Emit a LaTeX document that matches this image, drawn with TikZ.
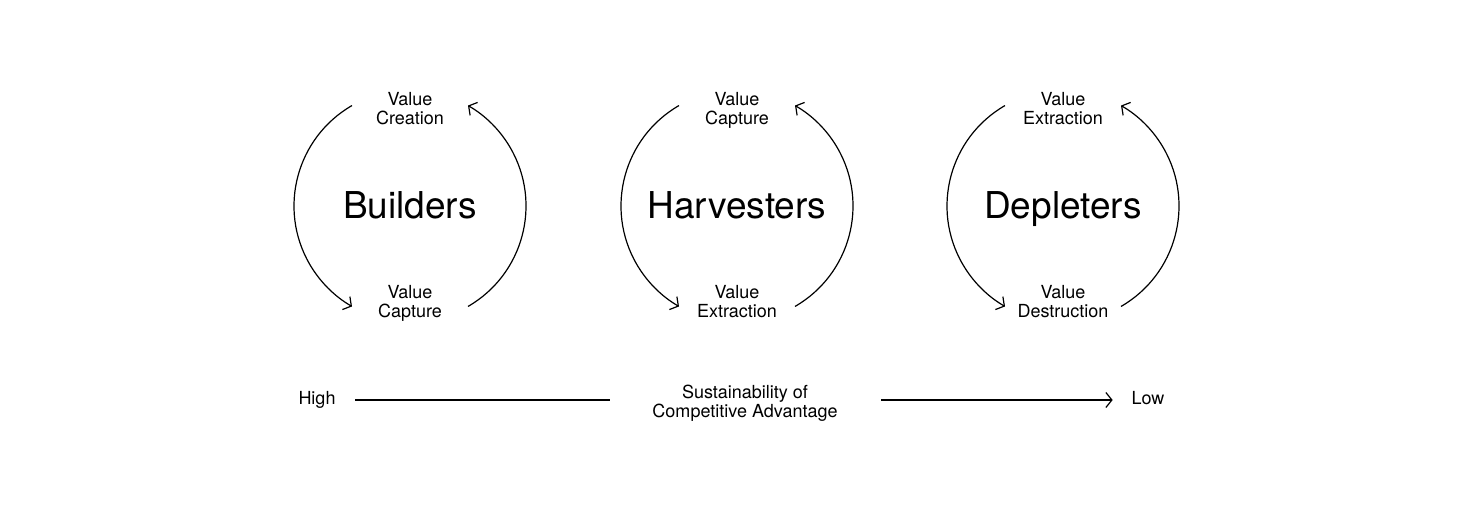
\documentclass[tikz,border=0pt]{standalone}
\usepackage{fontspec}
\setmainfont{TeX Gyre Heros}
\usetikzlibrary{arrows.meta}
\begin{document}
\begin{tikzpicture}
            [x=1pt,y=1pt,line width=1.2pt,
             every node/.style={font=\fontsize{18}{16}\selectfont,align=center},
             bigname/.style={font=\fontsize{37}{40}\selectfont},
             tip/.style={-{Straight Barb[length=6pt,width=15pt]}}]
            \useasboundingbox (0,0) rectangle (1466,528);
            % three cycles
            \foreach \cx/\nm/\up/\down [count=\i] in
                {410/Builders/Creation/Capture,
                 737/Harvesters/Capture/Extraction,
                 1063/Depleters/Extraction/Destruction}{
                \node [bigname] (name\i) at (\cx,317) {\strut\nm};
                \node (top\i) at (\cx,417) {\strut Value\\\strut\up};
                \node (bot\i) at (\cx,224.5) {\strut Value\\\strut\down};
                \coordinate (c\i) at (\cx,322);
                \draw [tip] (c\i) ++(120:116pt) arc (120:240:116pt);
                \draw [tip] (c\i) ++(-60:116pt) arc (-60:60:116pt);
            }
            % scale below
            \node (high) at (317,128) {\strut High};
            \node (sust) at (745,124.5) {\strut Sustainability of\\\strut Competitive Advantage};
            \node (low) at (1148,128) {\strut Low};
            \draw [shorten <=16pt,shorten >=39pt] (high.east) -- (high.east -| sust.west);
            \draw [tip,shorten <=40pt,shorten >=15pt] (sust.east |- low.west) -- (low.west);
        \end{tikzpicture}
\end{document}
